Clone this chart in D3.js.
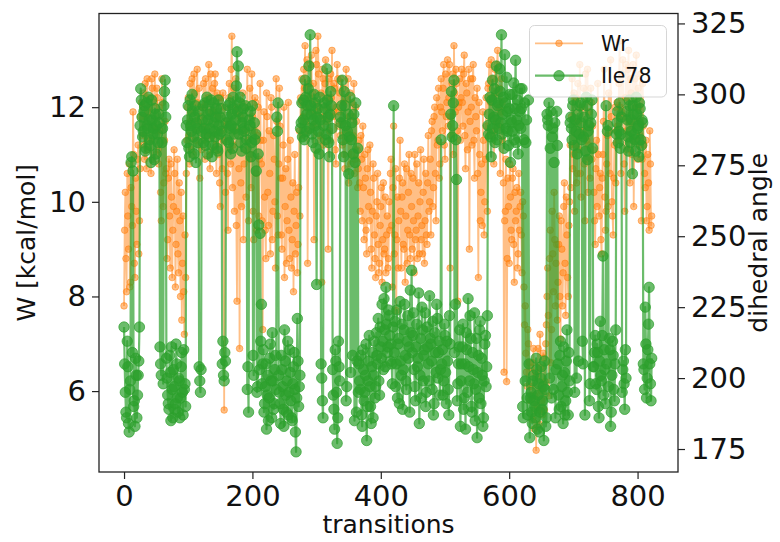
<!DOCTYPE html>
<html><head><meta charset="utf-8">
<script src="https://cdn.jsdelivr.net/npm/d3@7"></script>
<style>
body{margin:0;background:#fff;}
text{font-family:"DejaVu Sans",sans-serif;fill:#111;}
</style>
</head><body>
<svg id="c" width="780" height="542"></svg>
<script>
const seriesNames = ["Wr", "Ile78"];
const xTicks = [0, 200, 400, 600, 800];
const wTicks = [6, 8, 10, 12];
const angleTicks = [175, 200, 225, 250, 275, 300, 325];

// Wr [kcal/mol] at even transitions 0,2,4,...
const wrEven = [
 7.8,10.2,8.1,9.7,10.8,8.3,9.9,11.9,8.7,10.5,9.1,11.2,9.6,11.8,
 11.4,12.3,10.9,11.8,12.6,11.1,12.0,10.6,12.4,11.6,12.7,11.0,12.2,10.8,
 11.5,9.6,12.1,10.4,11.7,
 10.7,9.2,10.9,8.6,10.1,9.4,11.1,8.2,9.8,8.9,10.4,8.0,7.5,9.7,7.2,8.4,
 11.3,12.2,10.8,11.7,12.6,11.0,12.3,11.5,
 12.8,11.2,
 10.5,12.0,
 11.6,12.5,10.9,12.1,11.4,12.9,10.7,11.9,12.4,11.1,12.7,10.6,11.8,12.2,
 9.9,11.5,
 12.3,5.6,10.2,
 11.7,9.4,12.5,10.8,13.5,11.2,9.8,12.6,7.9,11.9,6.9,10.4,12.1,9.2,11.5,10.1,
 12.8,9.6,
 12.4,10.3,11.8,9.2,12.2,10.6,11.4,9.7,12.5,
 10.8,7.3,11.9,9.4,12.3,10.2,11.5,8.9,12.0,9.8,10.9,8.6,11.7,9.3,12.4,10.5,9.0,11.2,8.4,10.7,9.6,12.1,8.8,10.1,9.2,8.1,11.0,9.5,8.5,10.3,9.7,
 12.1,11.4,12.8,13.3,11.7,8.7,12.5,11.9,13.1,12.3,9.2,11.6,12.9,13.5,12.0,11.3,8.3,12.6,11.8,13.0,12.2,9.0,11.5,12.7,13.2,11.9,12.4,10.8,12.9,11.6,12.3,
 12.6,11.2,12.1,10.7,12.8,11.5,10.4,12.3,11.0,11.8,12.5,10.9,11.7,10.3,
 11.3,9.8,10.9,11.6,9.2,10.5,8.9,11.1,9.6,10.2,8.6,10.8,9.3,8.4,10.0,9.1,8.7,9.9,8.3,10.4,9.0,8.5,9.7,8.8,9.4,
 10.9,8.2,11.6,9.3,7.7,10.1,9.6,11.3,8.6,10.4,9.0,8.3,10.7,9.4,11.0,8.8,9.9,10.5,8.5,9.2,10.8,9.7,8.9,11.1,9.5,10.2,8.7,10.6,9.1,11.4,10.0,9.3,11.7,10.3,12.0,9.6,11.2,12.4,10.8,
 12.6,11.5,12.9,10.9,11.8,13.0,12.2,8.6,11.4,12.7,13.3,11.9,12.5,7.9,12.1,11.3,
 12.8,11.6,13.1,10.7,12.3,11.9,9.0,12.6,11.2,12.9,10.5,11.8,12.4,8.4,11.0,10.2,9.5,11.3,10.0,12.2,9.8,
 12.5,11.4,13.0,12.2,10.8,12.8,11.7,13.2,12.0,10.6,12.6,11.3,6.4,9.8,6.2,10.5,8.7,10.1,9.2,10.7,8.3,9.6,10.3,8.9,9.4,
 10.2,8.5,9.7,7.4,6.8,6.1,7.0,5.8,
 6.5,5.4,6.9,5.9,4.75,6.3,5.6,7.2,6.0,5.5,6.7,6.2,7.4,
 8.6,5.9,9.4,7.3,8.9,10.2,7.8,9.1,
 8.3,9.7,7.1,9.0,8.5,10.4,7.6,9.3,8.0,10.0,
 10.3,12.6,11.0,9.8,12.2,10.6,11.7,12.9,10.1,11.4,12.4,9.6,10.9,12.8,11.2,10.5,12.1,11.6,
 10.2,9.1,11.3,12.5,9.7,10.6,8.9,11.0,12.8,9.4,10.8,9.9,11.5,13.0,10.0,9.3,11.2,10.4,
 12.1,11.3,13.4,10.6,12.7,11.8,9.8,12.9,11.1,13.2,10.4,12.3,11.6,9.9,12.6,13.1,10.9,12.0,11.4,9.6,12.5,
 11.2,10.3,9.6,11.0,9.4,10.8,9.7
];
// Wr [kcal/mol] at odd transitions 1,3,5,...
const wrOdd = [
 9.4,8.8,10.6,9.0,8.2,10.3,9.5,11.0,8.4,9.8,10.9,8.9,10.7,12.1,
 12.0,11.2,12.5,10.7,11.9,12.2,11.3,12.6,10.9,12.1,11.5,12.4,11.1,12.0,
 10.2,12.6,9.9,11.3,10.6,
 8.8,10.5,9.7,10.8,8.4,9.9,10.6,9.1,10.9,8.5,9.6,10.2,8.7,8.1,9.3,10.6,
 12.0,11.4,12.5,11.1,11.9,12.7,11.3,12.1,
 11.7,12.4,
 11.8,11.1,
 12.0,11.3,12.6,11.5,12.2,11.0,12.7,11.4,11.9,12.5,11.2,12.3,11.0,10.4,
 12.2,10.7,
 11.3,12.0,11.6,
 10.6,12.2,11.1,12.8,10.3,12.4,11.5,9.5,12.0,10.7,11.8,9.9,12.3,10.8,12.0,11.1,
 11.3,10.9,
 11.0,12.7,9.8,11.5,12.1,9.4,12.0,10.9,11.3,
 9.6,11.3,10.1,8.8,11.8,9.5,10.6,12.2,9.2,11.4,10.0,12.6,9.7,10.8,11.6,9.3,10.5,12.0,9.9,8.7,10.9,9.4,11.3,8.6,10.4,9.8,8.9,10.2,9.1,11.5,12.2,
 12.6,11.8,12.4,12.0,13.0,11.5,12.2,12.9,11.6,12.5,12.1,13.2,11.9,12.7,11.4,12.3,12.8,11.2,12.5,11.7,12.0,12.6,11.3,12.2,11.8,12.5,11.1,12.0,12.6,11.9,11.4,
 11.7,12.4,11.0,12.2,11.3,12.6,11.8,10.8,12.1,11.4,10.6,12.0,11.1,10.7,
 10.4,11.4,9.6,10.3,11.0,9.4,10.7,9.9,11.2,9.0,9.8,10.5,8.8,9.7,10.6,8.5,9.5,10.3,9.2,8.9,10.1,9.3,8.6,10.0,10.6,
 9.5,10.3,8.9,10.7,9.2,8.6,10.5,9.8,10.1,9.1,10.8,9.7,8.7,10.2,9.3,10.6,9.0,9.6,11.0,9.4,8.8,10.4,10.0,9.2,8.9,10.9,9.6,9.3,10.4,9.8,10.9,11.5,9.9,11.8,10.6,12.2,11.3,10.5,12.0,
 11.9,12.4,11.2,12.7,12.1,11.6,12.9,11.8,12.5,11.0,12.3,12.8,11.5,12.0,12.6,12.2,
 12.1,12.7,11.4,12.5,11.1,12.8,11.7,12.0,12.6,11.3,12.2,11.5,10.6,12.1,9.6,10.8,11.9,9.3,10.9,11.6,12.4,
 12.9,12.1,11.8,12.6,11.5,12.3,12.9,11.6,12.4,11.9,12.1,10.4,9.6,10.9,8.8,9.9,10.8,9.4,10.5,9.1,10.2,9.8,8.6,10.6,9.9,
 9.3,10.0,8.2,7.8,6.4,7.3,6.6,6.1,
 5.9,6.6,5.2,6.4,5.7,6.9,5.3,6.5,5.8,6.8,5.6,7.0,8.0,
 7.6,8.8,6.6,9.8,8.1,9.2,8.7,7.5,
 9.1,8.0,9.6,7.8,9.9,8.7,10.1,8.4,9.5,11.2,
 11.8,10.7,12.3,11.2,10.4,12.5,11.1,10.6,12.0,11.5,10.8,12.7,11.3,10.2,11.9,12.4,10.9,11.1,
 9.6,10.7,9.9,11.0,10.3,9.2,10.5,11.7,10.1,9.8,11.4,12.3,10.6,11.8,9.7,10.5,12.0,11.5,
 11.6,12.5,12.0,11.9,13.0,10.8,12.2,11.5,12.8,11.7,12.6,11.0,12.9,11.3,12.0,11.7,12.4,11.2,12.7,10.9,11.6,
 10.6,11.3,9.9,10.4,11.5,9.5
];

// Ile78 dihedral angle at even transitions
const ile78Even = [
 218,195,186,204,181,199,278,273,192,207,186,201,218,302,
 292,287,296,281,289,299,284,276,291,288,295,279,286,293,
 211,201,288,296,305,
 207,194,189,202,211,186,197,191,205,188,199,193,209,187,196,190,
 283,296,278,289,300,285,292,276,
 288,294,
 199,203,
 291,283,297,286,279,293,288,298,282,290,285,295,280,289,
 292,287,
 213,199,206,
 284,296,288,279,293,299,286,291,315,310,297,283,290,295,287,281,
 196,188,
 289,278,296,201,284,273,197,254,251,
 226,205,188,197,182,201,193,212,186,199,191,208,292,297,195,184,203,189,217,194,199,187,210,192,185,204,196,174,221,190,201,
 290,285,298,305,287,296,310,321,293,283,300,289,233,295,279,291,200,186,297,284,309,292,278,301,288,194,182,206,177,213,199,
 290,305,278,296,192,287,272,299,284,208,293,276,188,281,
 205,196,187,210,192,201,178,199,215,190,204,186,213,197,208,221,194,211,226,203,217,232,209,224,215,
 212,198,296,220,205,193,214,227,201,189,217,208,196,222,211,231,238,215,203,192,219,207,184,214,225,199,210,190,218,205,229,212,196,187,216,202,221,209,194,
 284,210,199,215,191,206,187,212,301,289,305,226,270,198,211,183,
 205,219,193,182,210,228,199,214,188,203,223,196,179,208,217,191,201,186,212,197,222,
 286,299,278,305,292,283,310,296,288,301,321,293,281,297,306,287,295,276,290,300,284,312,291,279,294,
 288,302,186,297,283,193,298,179,
 195,184,201,190,207,182,198,188,204,192,178,196,186,
 291,297,281,193,288,276,186,294,
 205,189,213,197,184,202,192,217,187,199,
 292,284,298,195,287,279,206,296,290,213,285,187,299,277,289,198,293,281,
 204,215,196,209,186,220,199,243,210,191,205,289,214,183,201,208,192,217,
 290,283,297,286,195,206,189,200,291,280,296,287,272,293,284,299,288,278,295,282,290,
 203,225,193,210,232,198,207
];
// Ile78 dihedral angle at odd transitions
const ile78Odd = [
 205,188,213,184,196,276,209,190,183,201,194,206,289,298,
 285,294,280,297,288,291,282,298,286,277,293,289,283,290,
 205,283,198,301,292,
 200,191,208,185,196,203,189,212,193,200,186,204,195,210,198,289,
 291,281,298,287,294,279,296,290,
 283,204,
 195,287,
 296,288,282,299,291,285,294,278,297,287,292,281,298,286,
 295,205,
 201,209,290,
 292,283,297,289,281,295,288,303,294,286,299,280,292,288,296,284,
 204,291,
 294,283,208,290,286,195,279,203,213,
 198,210,191,205,194,185,207,199,216,189,203,196,287,201,191,208,197,183,206,188,213,195,202,186,198,209,181,193,206,197,288,
 297,291,284,299,293,302,288,296,286,291,297,281,292,287,299,205,192,289,295,286,298,283,293,296,203,189,210,195,186,204,292,
 296,284,301,289,197,293,285,202,290,279,185,297,206,195,
 199,208,183,203,195,212,190,206,197,184,209,201,193,216,205,199,218,207,213,228,204,219,211,222,206,
 205,218,209,197,224,212,191,206,219,203,226,199,213,207,188,216,209,223,197,211,204,230,201,193,217,208,223,195,211,199,214,206,220,191,209,226,200,213,203,
 205,194,219,202,213,196,222,293,285,297,209,284,192,205,217,199,
 211,189,205,216,195,204,222,190,209,198,185,214,202,193,220,207,183,199,215,204,289,
 293,285,298,288,302,291,284,297,309,290,286,299,314,288,294,282,300,291,287,304,295,283,298,289,302,
 295,190,284,199,291,187,205,193,
 188,199,192,186,203,194,181,200,189,197,206,183,293,
 289,200,294,285,196,290,203,282,
 194,208,190,201,211,187,206,195,209,290,
 288,296,282,291,200,293,286,297,284,205,292,280,296,287,192,290,298,204,
 209,198,212,190,206,201,215,194,203,296,287,197,210,188,213,196,205,286,
 294,287,281,292,203,198,210,294,285,298,283,291,296,286,280,293,289,297,284,291,205,
 196,212,200,219,205,192
];

function interleave(even, odd) {
  const out = [];
  even.forEach((v, i) => { out.push(v); if (i < odd.length) out.push(odd[i]); });
  return out;
}
const wr = interleave(wrEven, wrOdd);
const ile78 = interleave(ile78Even, ile78Odd);

const svg = d3.select("#c");
const L = 99, R = 678, T = 13.5, B = 472;
const x = d3.scaleLinear().domain([-39, 863]).range([L, R]);
const yW = d3.scaleLinear().domain([4.29, 13.98]).range([B, T]);
const yA = d3.scaleLinear().domain([166.9, 328.5]).range([B, T]);

const orange = "#ff7f0e", green = "#2ca02c";

svg.append("clipPath").attr("id","clip").append("rect")
  .attr("x", L).attr("y", T).attr("width", R-L).attr("height", B-T);
const plot = svg.append("g").attr("clip-path","url(#clip)");

function drawSeries(values, yScale, color, alpha, lw, r) {
  const pts = values.map((v,i)=>[i, v]);
  const g = plot.append("g");
  g.append("path")
    .attr("d", d3.line().x(d=>x(d[0])).y(d=>yScale(d[1]))(pts))
    .attr("fill","none").attr("stroke", color).attr("stroke-opacity", alpha)
    .attr("stroke-width", lw).attr("stroke-linejoin","round");
  g.selectAll("circle").data(pts).join("circle")
    .attr("cx", d=>x(d[0])).attr("cy", d=>yScale(d[1])).attr("r", r)
    .attr("fill", color).attr("fill-opacity", alpha)
    .attr("stroke", color).attr("stroke-opacity", alpha).attr("stroke-width", 1);
}
drawSeries(wr, yW, orange, 0.5, 1.8, 3.3);
drawSeries(ile78, yA, green, 0.7, 2.2, 5.2);

// axes
const fsTick = 29;
const xAxis = svg.append("g").attr("transform", `translate(0,${B})`)
  .call(d3.axisBottom(x).tickValues(xTicks).tickSize(7).tickPadding(6).tickFormat(d3.format("d")));
const yAxisL = svg.append("g").attr("transform", `translate(${L},0)`)
  .call(d3.axisLeft(yW).tickValues(wTicks).tickSize(7).tickPadding(6).tickFormat(d3.format("d")));
const yAxisR = svg.append("g").attr("transform", `translate(${R},0)`)
  .call(d3.axisRight(yA).tickValues(angleTicks).tickSize(7).tickPadding(6).tickFormat(d3.format("d")));
[xAxis, yAxisL, yAxisR].forEach(a=>{
  a.select(".domain").remove();
  a.selectAll(".tick line").attr("stroke","#222").attr("stroke-width",1.2);
  a.selectAll(".tick text").attr("font-size", fsTick).attr("fill","#111")
    .style("font-family","'DejaVu Sans',sans-serif");
});

svg.append("rect").attr("x", L).attr("y", T).attr("width", R-L).attr("height", B-T)
  .attr("fill","none").attr("stroke","#222").attr("stroke-width",1.3);

// axis labels
svg.append("text").attr("x", (L+R)/2).attr("y", 533).attr("text-anchor","middle")
  .attr("font-size", 25).text("transitions");
svg.append("text").attr("transform", `translate(35,${(T+B)/2}) rotate(-90)`)
  .attr("text-anchor","middle").attr("font-size", 25).text("W [kcal/mol]");
svg.append("text").attr("transform", `translate(749,${(T+B)/2}) rotate(-90)`)
  .attr("text-anchor","middle").attr("dominant-baseline","hanging").attr("font-size", 25).text("dihedral angle");

// legend
const lg = svg.append("g");
lg.append("rect").attr("x", 529.5).attr("y", 25.5).attr("width", 137).attr("height", 71.5)
  .attr("rx", 5).attr("fill","#fff").attr("fill-opacity",0.8)
  .attr("stroke","#ccc").attr("stroke-opacity",0.8);
const legendItems = [
  {name: seriesNames[0], color: orange, alpha: 0.5, lw: 1.8, r: 3.3, y: 43.3},
  {name: seriesNames[1], color: green, alpha: 0.7, lw: 2.2, r: 5.2, y: 75.7}
];
legendItems.forEach(it=>{
  lg.append("line").attr("x1", 535).attr("x2", 583).attr("y1", it.y).attr("y2", it.y)
    .attr("stroke", it.color).attr("stroke-opacity", it.alpha).attr("stroke-width", it.lw);
  lg.append("circle").attr("cx", 559).attr("cy", it.y).attr("r", it.r)
    .attr("fill", it.color).attr("fill-opacity", it.alpha)
    .attr("stroke", it.color).attr("stroke-opacity", it.alpha);
  lg.append("text").attr("x", 601).attr("y", it.y + 7.5).attr("font-size", 20.5).text(it.name);
});
</script>
</body></html>
